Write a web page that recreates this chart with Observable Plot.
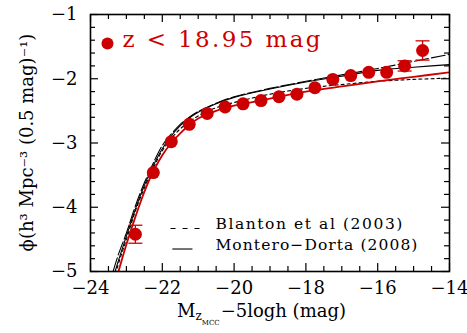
<!DOCTYPE html>
<html><head><meta charset="utf-8">
<script src="https://cdn.jsdelivr.net/npm/d3@7"></script>
<script src="https://cdn.jsdelivr.net/npm/@observablehq/plot@0.6"></script>
<style>body{margin:0;background:#fff} svg{display:block}</style>
</head><body><div id="chart"></div>
<script>
// measured luminosity function points
const magBins = [-22.75,-22.25,-21.75,-21.25,-20.75,-20.25,-19.75,-19.25,-18.75,-18.25,-17.75,-17.25,-16.75,-16.25,-15.75,-15.25,-14.75];
const phiValues = [-4.42,-3.46,-2.98,-2.71,-2.54,-2.44,-2.39,-2.34,-2.28,-2.24,-2.14,-2.01,-1.95,-1.90,-1.90,-1.80,-1.56];
const phiErrors = [0.14,0.05,0.04,0.04,0.04,0.04,0.04,0.04,0.04,0.04,0.04,0.04,0.04,0.04,0.05,0.08,0.15];

// fitted curves
const curveMag   = [-23.5,-23.25,-23.0,-22.75,-22.5,-22.25,-22.0,-21.75,-21.5,-21.25,-21.0,-20.5,-20.0,-19.0,-18.0,-17.0,-16.0,-15.0,-14.0];
const fitRed     = [-5.60,-5.06,-4.58,-4.15,-3.76,-3.44,-3.19,-3.00,-2.85,-2.72,-2.62,-2.50,-2.42,-2.31,-2.20,-2.12,-2.04,-1.97,-1.90];
const fitMontero = [-5.35,-4.88,-4.45,-4.03,-3.66,-3.35,-3.09,-2.89,-2.73,-2.61,-2.52,-2.39,-2.29,-2.16,-2.05,-1.96,-1.87,-1.82,-1.78];
const fitUpper   = [-5.25,-4.78,-4.40,-3.98,-3.62,-3.31,-3.04,-2.86,-2.71,-2.60,-2.51,-2.38,-2.28,-2.15,-2.04,-1.94,-1.84,-1.73,-1.62];
const fitBlanton = [-5.40,-4.93,-4.50,-4.06,-3.70,-3.39,-3.12,-2.93,-2.78,-2.67,-2.58,-2.45,-2.37,-2.24,-2.15,-2.09,-2.04,-2.01,-1.99];

// ticks and labels
const xMajor = [-24,-22,-20,-18,-16,-14];
const xMinor = d3.range(-24, -13.9, 0.5).filter(v => !xMajor.includes(v));
const yMajor = [-1,-2,-3,-4,-5];
const yMinor = d3.range(-5, -0.99, 0.2).map(v => +v.toFixed(1)).filter(v => !yMajor.includes(v));
const sampleLabel = "z < 18.95 mag";
const legendLabels = ["Blanton et al (2003)", "Montero\u2212Dorta (2008)"];
const yLabel = "\u03d5(h\u00b3 Mpc\u207b\u00b3 (0.5 mag)\u207b\u00b9)";

const RED = "#cc0000";
const W = 467, H = 333, ML = 90, MR = 18, MT = 14, MB = 62;
const FW = W - ML - MR, FH = H - MT - MB;

const points = magBins.map((m, i) => ({m, phi: phiValues[i], err: phiErrors[i]}));
const errPoints = points.filter(d => d.err >= 0.08);
const mk = arr => curveMag.map((m, i) => ({m, phi: arr[i]}));

const capSymbol = {draw(ctx, size) { const r = Math.sqrt(size / Math.PI); ctx.moveTo(-r, 0); ctx.lineTo(r, 0); }};

const legendLayout = {x1: -21.77, x2: -20.94, x2s: -21.16, xt: -20.52, y1: -4.33, y2: -4.65};

const tickStyle = {stroke: "black", strokeWidth: 1.2};
const CURVE = "catmull-rom";

const chart = Plot.plot({
  width: W, height: H,
  marginLeft: ML, marginRight: MR, marginTop: MT, marginBottom: MB,
  style: {fontFamily: "DejaVu Serif", fontSize: "18px", background: "white", color: "black"},
  x: {domain: [-24, -14]},
  y: {domain: [-5, -1]},
  marks: [
    Plot.line(mk(fitBlanton), {x: "m", y: "phi", stroke: "black", strokeWidth: 1.1, strokeDasharray: "3,3", curve: CURVE, clip: true}),
    Plot.line(mk(fitUpper), {x: "m", y: "phi", stroke: "black", strokeWidth: 1.1, strokeDasharray: "14,3", curve: CURVE, clip: true}),
    Plot.line(mk(fitMontero), {x: "m", y: "phi", stroke: "black", strokeWidth: 1.1, curve: CURVE, clip: true}),
    Plot.line(mk(fitRed), {x: "m", y: "phi", stroke: RED, strokeWidth: 1.8, curve: CURVE, clip: true}),
    Plot.link(errPoints, {x1: "m", x2: "m", y1: d => d.phi - d.err, y2: d => d.phi + d.err, stroke: RED, strokeWidth: 1.3}),
    Plot.dot(errPoints, {x: "m", y: d => d.phi - d.err, symbol: capSymbol, r: 7, stroke: RED, strokeWidth: 1.3, fill: "none"}),
    Plot.dot(errPoints, {x: "m", y: d => d.phi + d.err, symbol: capSymbol, r: 7, stroke: RED, strokeWidth: 1.3, fill: "none"}),
    Plot.dot(points, {x: "m", y: "phi", r: 6.5, fill: RED, stroke: "none"}),
    // sample label
    Plot.dot([sampleLabel], {frameAnchor: "top-left", dx: 17, dy: 29, r: 6, fill: RED}),
    Plot.text([sampleLabel], {frameAnchor: "top-left", dx: 32, dy: 25, text: d => d, textAnchor: "start", lineAnchor: "middle", fill: RED, fontSize: 23, fontFamily: "DejaVu Serif", className: "sample-label"}),
    // legend
    Plot.link([legendLabels[0]], {x1: () => legendLayout.x1, x2: () => legendLayout.x2, y1: () => legendLayout.y1, y2: () => legendLayout.y1, stroke: "black", strokeWidth: 1.1, strokeDasharray: "5,7"}),
    Plot.link([legendLabels[1]], {x1: () => legendLayout.x1 + 0.05, x2: () => legendLayout.x2s, y1: () => legendLayout.y2, y2: () => legendLayout.y2, stroke: "black", strokeWidth: 1.1}),
    Plot.text(legendLabels, {x: () => legendLayout.xt, y: (d, i) => i === 0 ? legendLayout.y1 : legendLayout.y2, text: d => d, textAnchor: "start", lineAnchor: "bottom", dy: 1, fontSize: 15.5, fontFamily: "DejaVu Serif", className: "legend-label"}),
    // ticks (inward, all four sides)
    Plot.tickX(xMajor, {x: d => d, insetTop: FH - 8, ...tickStyle}),
    Plot.tickX(xMinor, {x: d => d, insetTop: FH - 5, ...tickStyle}),
    Plot.tickX(xMajor, {x: d => d, insetBottom: FH - 8, ...tickStyle}),
    Plot.tickX(xMinor, {x: d => d, insetBottom: FH - 5, ...tickStyle}),
    Plot.tickY(yMajor, {y: d => d, insetRight: FW - 8, ...tickStyle}),
    Plot.tickY(yMinor, {y: d => d, insetRight: FW - 5, ...tickStyle}),
    Plot.tickY(yMajor, {y: d => d, insetLeft: FW - 8, ...tickStyle}),
    Plot.tickY(yMinor, {y: d => d, insetLeft: FW - 5, ...tickStyle}),
    Plot.axisX(xMajor, {tickSize: 0, tickPadding: 10, tickFormat: d3.format("d"), label: null, fontSize: 18}),
    Plot.axisY(yMajor, {tickSize: 0, tickPadding: 13, tickFormat: d3.format("d"), label: null, fontSize: 18}),
    Plot.frame({stroke: "black", strokeWidth: 1.6})
  ]
});

document.getElementById("chart").appendChild(chart);

const svg = d3.select(chart);
// stretch annotation texts to the reference's wide letter spacing
svg.selectAll(".sample-label text").attr("textLength", 198).attr("lengthAdjust", "spacing");
svg.selectAll(".legend-label text").attr("textLength", (d, i) => i === 0 ? 187 : 202).attr("lengthAdjust", "spacing");

// axis titles with sub/superscripts
svg.append("text")
  .attr("transform", `translate(33,${MT + FH / 2}) rotate(-90)`)
  .attr("text-anchor", "middle")
  .attr("font-family", "DejaVu Serif").attr("font-size", 18)
  .attr("fill", "black")
  .text(yLabel);

const xl = svg.append("text")
  .attr("x", 177).attr("y", 317)
  .attr("text-anchor", "start")
  .attr("font-family", "DejaVu Serif").attr("font-size", 18)
  .attr("fill", "black");
xl.append("tspan").text("M");
xl.append("tspan").attr("font-size", 12).attr("dy", 3).text("z");
xl.append("tspan").attr("font-size", 7).attr("dy", 5).attr("dx", 0).text("MCC");
xl.append("tspan").attr("dy", -8).attr("dx", 1).text("\u22125logh (mag)");
</script>
</body></html>
